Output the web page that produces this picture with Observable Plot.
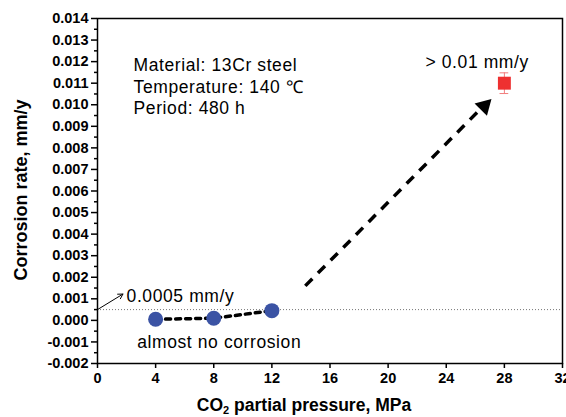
<!DOCTYPE html>
<html><head><meta charset="utf-8">
<script src="https://cdn.jsdelivr.net/npm/d3@7"></script>
<script src="https://cdn.jsdelivr.net/npm/@observablehq/plot@0.6"></script>
<style>
html,body{margin:0;padding:0;background:#fff;}
</style>
</head><body><div id="chart"></div>
<script>
// ---- data ----
const pressures = [4, 8, 12];
const rates = [0.00005, 0.0001, 0.00045];
const highPressure = [28];
const highRate = [0.011];
const highErr = [0.00048];
const xTicks = [0, 4, 8, 12, 16, 20, 24, 28, 32];
const yTicks = [-0.002, -0.001, 0, 0.001, 0.002, 0.003, 0.004, 0.005, 0.006, 0.007, 0.008, 0.009, 0.010, 0.011, 0.012, 0.013, 0.014];
const threshold = 0.0005;
const notes = ["Material: 13Cr steel", "Temperature: 140 \u2103", "Period: 480 h"];
const noteX = [2.48, 2.48, 2.48];
const noteY = [0.01182, 0.0108, 0.00983];
const labels = ["> 0.01 mm/y", "0.0005 mm/y", "almost no corrosion"];
const labelX = [22.57, 2.0, 2.73];
const labelY = [0.01196, 0.00113, -0.00101];
const trendArrow = [{x1: 14.3, y1: 0.0016, x2: 26.5, y2: 0.0099}];
const trendHead = [{x: 26.62, y: 0.00994}];
const thresholdArrow = [{x1: 0, y1: 0.0005, x2: 1.75, y2: 0.00122}];

const low = pressures.map((x, i) => ({x, y: rates[i]}));
const high = highPressure.map((x, i) => ({x, y: highRate[i], lo: highRate[i] - highErr[i], hi: highRate[i] + highErr[i]}));
const yMinor = yTicks.slice(0, -1).map(v => v + 0.0005);
const font = "'Liberation Sans', Arial, sans-serif";

const plot = Plot.plot({
  width: 566, height: 417,
  marginLeft: 97, marginRight: 4, marginTop: 18, marginBottom: 54,
  style: {fontFamily: font, background: "#fff", color: "#000", overflow: "visible"},
  x: {domain: [0, 32]},
  y: {domain: [-0.002, 0.014]},
  marks: [
    Plot.ruleY([threshold], {stroke: "#777", strokeDasharray: "1,2", strokeWidth: 1}),
    Plot.axisX({ticks: xTicks, tickSize: 5, tickPadding: 4, tickFormat: d => String(d), fontSize: 14.5, fontWeight: "bold", label: null, strokeWidth: 1.5}),
    Plot.axisY({ticks: yTicks, tickSize: 6, tickPadding: 3, tickFormat: d => d.toFixed(3), fontSize: 14.5, fontWeight: "bold", label: null, strokeWidth: 1.5}),
    Plot.axisY({ticks: yMinor, tickSize: 3, text: null, label: null, strokeWidth: 1.5}),
    Plot.frame({stroke: "#000", strokeWidth: 1.5}),
    Plot.line(low, {x: "x", y: "y", stroke: "#000", strokeWidth: 3.5, strokeDasharray: "5,5"}),
    Plot.link(trendArrow, {x1: "x1", y1: "y1", x2: "x2", y2: "y2", stroke: "#000", strokeWidth: 3.5, strokeDasharray: "10,8"}),
    Plot.dot(trendHead, {x: "x", y: "y", symbol: "triangle", r: 6.5, rotate: 45, fill: "#000", stroke: "none"}),
    Plot.arrow(thresholdArrow, {x1: "x1", y1: "y1", x2: "x2", y2: "y2", stroke: "#000", strokeWidth: 1, headLength: 8}),
    Plot.dot(low, {x: "x", y: "y", r: 7.5, fill: "#3b53a4", stroke: "none"}),
    Plot.ruleX(high, {x: "x", y1: "lo", y2: "hi", stroke: "#f27c7c", strokeWidth: 1}),
    Plot.ruleY(high, {y: "lo", x1: d => d.x - 0.3, x2: d => d.x + 0.3, stroke: "#f27c7c", strokeWidth: 1}),
    Plot.ruleY(high, {y: "hi", x1: d => d.x - 0.3, x2: d => d.x + 0.3, stroke: "#f27c7c", strokeWidth: 1}),
    Plot.dot(high, {x: "x", y: "y", symbol: "square", r: 7.3, fill: "#ee3030", stroke: "none"}),
    Plot.text(notes, {x: (d, i) => noteX[i], y: (d, i) => noteY[i], text: d => d, textAnchor: "start", fontSize: 17.5, fill: "#000"}),
    Plot.text(labels, {x: (d, i) => labelX[i], y: (d, i) => labelY[i], text: d => d, textAnchor: "start", fontSize: 17.5, fill: "#000"})
  ]
});

const svg = d3.select(plot);
svg.selectAll("g[aria-label='text'] text").style("letter-spacing", "0.6px");

const xl = svg.append("text")
  .attr("x", 304).attr("y", 411)
  .attr("text-anchor", "middle")
  .attr("font-family", font).attr("font-size", 17.5).attr("font-weight", "bold").attr("fill", "#000");
xl.append("tspan").text("CO");
xl.append("tspan").attr("font-size", 11).attr("dy", 3).text("2");
xl.append("tspan").attr("dy", -3).text(" partial pressure, MPa");

svg.append("text")
  .attr("transform", "translate(27,190) rotate(-90)")
  .attr("text-anchor", "middle")
  .attr("font-family", font).attr("font-size", 18).attr("font-weight", "bold").attr("fill", "#000")
  .text("Corrosion rate, mm/y");

document.getElementById("chart").appendChild(plot);
</script>
</body></html>
